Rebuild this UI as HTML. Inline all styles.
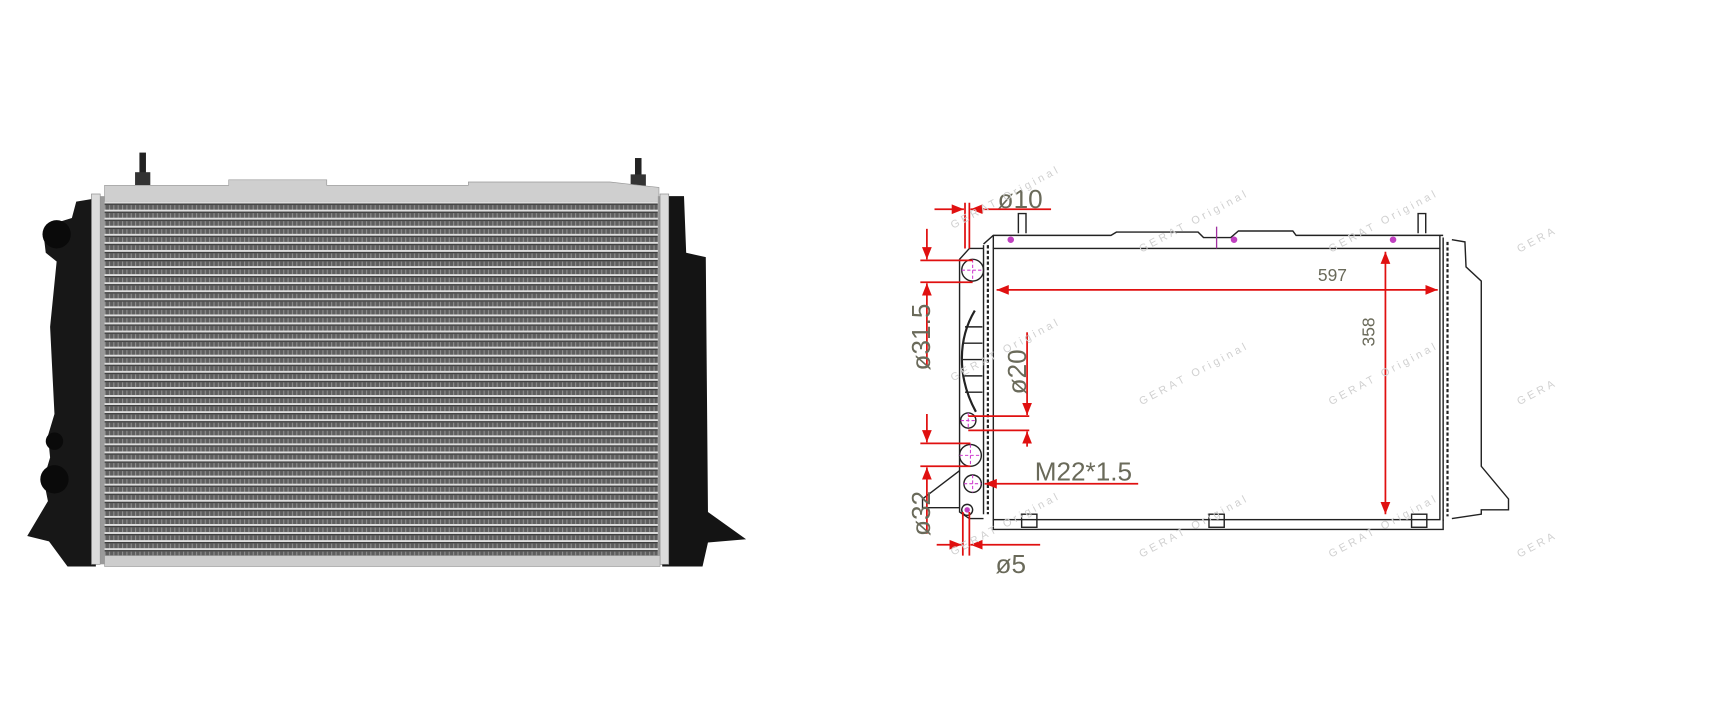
<!DOCTYPE html>
<html><head><meta charset="utf-8"><style>
html,body{margin:0;padding:0;background:#fff;}
svg{display:block;}
text{font-family:"Liberation Sans",sans-serif;}
</style></head><body>
<svg width="1710" height="706" viewBox="0 0 1570 648" xmlns="http://www.w3.org/2000/svg">
<defs>
<pattern id="fins" x="0" y="185" width="8" height="7.4" patternUnits="userSpaceOnUse">
<rect width="8" height="7.4" fill="#5e5e5e"/>
<rect y="0" width="8" height="1.8" fill="#dedede"/>
<rect y="1.8" width="8" height="1" fill="#3a3a3a"/>
<rect x="0" y="3.2" width="1" height="4.2" fill="#909090"/>
<rect x="4" y="3.2" width="1" height="4.2" fill="#909090"/>
</pattern>
<marker id="ar" viewBox="0 0 10 10" refX="10" refY="5" markerWidth="7" markerHeight="7" orient="auto-start-reverse"><path d="M0,1 L10,5 L0,9 z" fill="#e01010"/></marker>
</defs>

<g>
<path d="M608,180 L628,180 L630,232 L648,236 L650,470 L685,495 L650,498 L645,520 L608,520 z" fill="#141414"/>
<path d="M88,182 L70,185 L66,200 L50,205 L40,215 L42,232 L52,240 L46,300 L50,380 L44,400 L46,420 L40,440 L44,460 L25,492 L45,497 L62,520 L88,520 z" fill="#171717"/>
<circle cx="52" cy="215" r="13" fill="#0a0a0a"/>
<circle cx="50" cy="440" r="13" fill="#0a0a0a"/>
<circle cx="50" cy="405" r="8" fill="#0a0a0a"/>
<rect x="128" y="140" width="6" height="25" fill="#222"/>
<rect x="124" y="158" width="14" height="12" fill="#333"/>
<rect x="583" y="145" width="6" height="22" fill="#222"/>
<rect x="579" y="160" width="14" height="12" fill="#333"/>
<path d="M96,170 L210,170 L210,165 L300,165 L300,170 L430,170 L430,167 L560,167 L605,172 L605,186 L96,186 z" fill="#cfcfcf" stroke="#999" stroke-width="0.6"/>
<rect x="96" y="185" width="508" height="330" fill="url(#fins)"/>
<rect x="84" y="178" width="8" height="340" fill="#dcdcdc" stroke="#888" stroke-width="0.6"/>
<rect x="92" y="180" width="4" height="338" fill="#9a9a9a"/>
<rect x="604" y="180" width="4" height="338" fill="#9a9a9a"/>
<rect x="606" y="178" width="8" height="340" fill="#dcdcdc" stroke="#888" stroke-width="0.6"/>
<rect x="96" y="510" width="510" height="10" fill="#cdcdcd" stroke="#999" stroke-width="0.6"/>
</g>

<g fill="none" stroke="#222" stroke-width="1.3">
<path d="M935,214 L935,196 L942,196 L942,214"/>
<path d="M1302,214 L1302,196 L1309,196 L1309,214"/>
<path d="M903,224 L912,216 L1020,216 L1025,213 L1100,213 L1105,218 L1130,218 L1137,212 L1187,212 L1190,216 L1300,216 L1325,216"/>
<rect x="912" y="228" width="410" height="249"/>
<path d="M912,216 L912,228 M1322,216 L1322,228"/>
<path d="M903,225 L903,472"/>
<path d="M907,225 L907,472" stroke-dasharray="3,2" stroke-width="2"/>
<path d="M1325,218 L1325,478"/>
<path d="M1329,222 L1329,474" stroke-dasharray="3,2" stroke-width="2"/>
<path d="M1333,220 L1345,222 L1346,245 L1360,258 L1360,428 L1385,458 L1385,468 L1360,468 L1360,472 L1333,476"/>
<path d="M903,228 L890,228 L881,238 L881,470 L890,476 L903,476"/>
<path d="M881,432 L847,458 L847,466 L881,466"/>
<path d="M895,285 C880,310 878,345 896,378" stroke-width="2"/>
<path d="M886,300 L902,300 M884,315 L902,315 M884,330 L902,330 M884,345 L902,345 M886,360 L902,360"/>
<path d="M912,477 L912,486 L1325,486 L1325,477"/>
<rect x="938" y="472" width="14" height="12"/>
<rect x="1110" y="472" width="14" height="12"/>
<rect x="1296" y="472" width="14" height="12"/>
<circle cx="893" cy="248" r="10"/>
<circle cx="889" cy="386" r="7"/>
<circle cx="891" cy="418" r="10"/>
<circle cx="893" cy="444" r="8"/>
<circle cx="888" cy="468" r="5"/>
</g>
<g fill="#c040c0">
<circle cx="928" cy="220" r="3"/><circle cx="1133" cy="220" r="3"/><circle cx="1279" cy="220" r="3"/>
<circle cx="888" cy="468" r="2.5"/>
</g>
<g stroke="#d040d0" stroke-width="1" stroke-dasharray="3,2">
<path d="M883,248 L903,248 M893,238 L893,258"/>
<path d="M882,386 L896,386 M889,379 L889,393"/>
<path d="M881,418 L901,418 M891,408 L891,428"/>
<path d="M885,444 L901,444 M893,436 L893,452"/>
</g>
<path d="M1117,208 L1117,228" stroke="#a030a0" stroke-width="1.2"/>

<g stroke="#e01010" stroke-width="1.6" fill="none">
<path d="M915,266 L1320,266" marker-start="url(#ar)" marker-end="url(#ar)"/>
<path d="M1272,231 L1272,472" marker-start="url(#ar)" marker-end="url(#ar)"/>
<path d="M845,239 L893,239 M845,259 L893,259"/>
<path d="M851,210 L851,238" marker-end="url(#ar)"/>
<path d="M851,336 L851,260" marker-end="url(#ar)"/>
<path d="M845,407 L891,407 M845,428 L891,428"/>
<path d="M851,380 L851,406" marker-end="url(#ar)"/>
<path d="M851,490 L851,429" marker-end="url(#ar)"/>
<path d="M889,382 L945,382 M889,395 L945,395"/>
<path d="M943,305 L943,381" marker-end="url(#ar)"/>
<path d="M943,410 L943,396" marker-end="url(#ar)"/>
<path d="M886,186 L886,228 M890,186 L890,228"/>
<path d="M858,192 L885,192" marker-end="url(#ar)"/>
<path d="M965,192 L891,192" marker-end="url(#ar)"/>
<path d="M884,470 L884,510 M890,470 L890,510"/>
<path d="M860,500 L883,500" marker-end="url(#ar)"/>
<path d="M955,500 L891,500" marker-end="url(#ar)"/>
<path d="M1045,444 L904,444" marker-end="url(#ar)"/>
</g>

<g fill="#6a6a5a">
<text x="916" y="191" font-size="24">ø10</text>
<text x="1210" y="258" font-size="16">597</text>
<text x="1262" y="318" font-size="16" transform="rotate(-90 1262 318)">358</text>
<text x="854" y="340" font-size="24" transform="rotate(-90 854 340)">ø31.5</text>
<text x="942" y="362" font-size="24" transform="rotate(-90 942 362)">ø20</text>
<text x="854" y="492" font-size="24" transform="rotate(-90 854 492)">ø32</text>
<text x="950" y="441" font-size="24">M22*1.5</text>
<text x="914" y="526" font-size="24">ø5</text>
</g>

<g fill="#d0d0d0" font-size="10" letter-spacing="3">
<text transform="translate(1048,232) rotate(-28)">GERAT Original</text>
<text transform="translate(1222,232) rotate(-28)">GERAT Original</text>
<text transform="translate(1395,232) rotate(-28)">GERA</text>
<text transform="translate(875,210) rotate(-28)">GERAT Original</text>
<text transform="translate(1048,372) rotate(-28)">GERAT Original</text>
<text transform="translate(1222,372) rotate(-28)">GERAT Original</text>
<text transform="translate(1395,372) rotate(-28)">GERA</text>
<text transform="translate(875,350) rotate(-28)">GERAT Original</text>
<text transform="translate(1048,512) rotate(-28)">GERAT Original</text>
<text transform="translate(1222,512) rotate(-28)">GERAT Original</text>
<text transform="translate(1395,512) rotate(-28)">GERA</text>
<text transform="translate(875,510) rotate(-28)">GERAT Original</text>
</g>
</svg>
</body></html>
